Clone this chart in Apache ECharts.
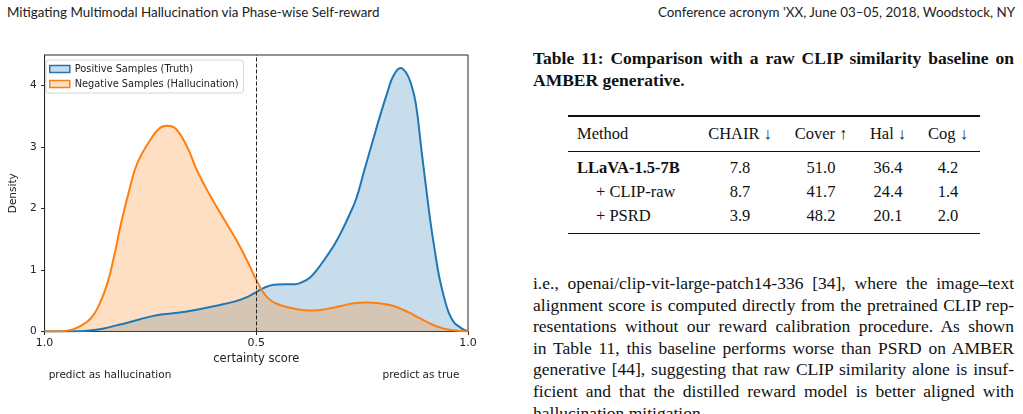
<!DOCTYPE html>
<html>
<head>
<meta charset="utf-8">
<script src="https://cdn.jsdelivr.net/npm/echarts@6/dist/echarts.min.js"></script>
<style>
  html, body {margin: 0; padding: 0; background: #fff;}
  #page {position: relative; width: 1023px; height: 414px; overflow: hidden;}
  #chart {position: absolute; left: 0; top: 0; width: 500px; height: 414px;}
  .hdr {position: absolute; top: 2px; line-height: 20px; font-family: Lato, sans-serif; font-size: 13.4px; color: #222; white-space: nowrap;}
  .cap {position: absolute; left: 533px; width: 481px; line-height: 22px; font-family: 'Liberation Serif', serif; font-weight: bold; font-size: 17px; color: #111; white-space: nowrap;}
  .txt {position: absolute; left: 533px; width: 481px; line-height: 20px; font-family: 'Liberation Serif', serif; font-size: 16px; color: #111; white-space: nowrap; text-align: justify; text-align-last: justify;}
  .cell {position: absolute; line-height: 20px; font-family: 'Liberation Serif', serif; font-size: 16.5px; color: #111; white-space: nowrap;}
  .rule {position: absolute; left: 568px; width: 412px; background: #111;}
  #measure {position: absolute; visibility: hidden; white-space: nowrap; font-family: 'Liberation Serif', serif;}
</style>
</head>
<body>
<div id="page">
  <div class="hdr" style="left:7px">Mitigating Multimodal Hallucination via Phase-wise Self-reward</div>
  <div class="hdr" style="right:8px">Conference acronym 'XX, June 03–05, 2018, Woodstock, NY</div>
  <div id="chart"></div>
  <div id="caption"></div>
  <div id="table"></div>
  <div id="para"></div>
  <span id="measure"></span>
</div>
<script>
// certainty score (0..1) and KDE density
const positiveSamples = [
  [0, 0], [0.08, 0.005], [0.11, 0.02], [0.14, 0.05], [0.17, 0.1], [0.2, 0.15], [0.225, 0.2],
  [0.255, 0.25], [0.28, 0.28], [0.31, 0.3], [0.356, 0.35], [0.403, 0.415], [0.45, 0.49],
  [0.475, 0.55], [0.497, 0.63], [0.518, 0.71], [0.541, 0.76], [0.565, 0.77], [0.59, 0.77],
  [0.61, 0.81], [0.627, 0.88], [0.645, 1.02], [0.666, 1.22], [0.685, 1.42], [0.705, 1.68],
  [0.72, 1.9], [0.736, 2.16], [0.755, 2.62], [0.775, 3.1], [0.794, 3.55], [0.81, 3.9],
  [0.823, 4.15], [0.841, 4.29], [0.855, 4.2], [0.866, 4.02], [0.877, 3.7], [0.89, 2.96],
  [0.9, 2.4], [0.911, 1.8], [0.922, 1.3], [0.932, 0.89], [0.945, 0.52], [0.955, 0.3],
  [0.967, 0.15], [0.979, 0.08], [0.99, 0.03], [1, 0.01]
];
const negativeSamples = [
  [0, 0], [0.04, 0.005], [0.065, 0.03], [0.085, 0.09], [0.11, 0.22], [0.13, 0.45], [0.149, 0.8],
  [0.165, 1.25], [0.18, 1.74], [0.2, 2.3], [0.219, 2.74], [0.248, 3.1], [0.27, 3.3], [0.289, 3.35],
  [0.31, 3.3], [0.337, 3.0], [0.36, 2.62], [0.392, 2.2], [0.415, 1.93], [0.439, 1.65], [0.46, 1.4],
  [0.478, 1.16], [0.5, 0.84], [0.518, 0.62], [0.535, 0.5], [0.557, 0.43], [0.59, 0.37], [0.627, 0.34],
  [0.66, 0.36], [0.697, 0.41], [0.73, 0.46], [0.76, 0.47], [0.79, 0.46], [0.815, 0.43], [0.838, 0.38],
  [0.86, 0.31], [0.885, 0.22], [0.91, 0.13], [0.932, 0.07], [0.955, 0.03], [0.98, 0.01], [1, 0]
];
const seriesNames = ['Positive Samples (Truth)', 'Negative Samples (Hallucination)'];
const xTickValues = [0, 0.5, 1];
const xTickLabels = ['1.0', '0.5', '1.0'];
const yTickValues = [0, 1, 2, 3, 4];
const threshold = 0.5;

// table 11
const captionLines = ['Table 11: Comparison with a raw CLIP similarity baseline on', 'AMBER generative.'];
const tableHead = ['Method', 'CHAIR ↓', 'Cover ↑', 'Hal ↓', 'Cog ↓'];
const tableRows = [
  ['LLaVA-1.5-7B', '7.8', '51.0', '36.4', '4.2'],
  ['+ CLIP-raw', '8.7', '41.7', '24.4', '1.4'],
  ['+ PSRD', '3.9', '48.2', '20.1', '2.0']
];
const paraLines = [
  'i.e., openai/clip-vit-large-patch14-336 [34], where the image–text',
  'alignment score is computed directly from the pretrained CLIP rep-',
  'resentations without our reward calibration procedure. As shown',
  'in Table 11, this baseline performs worse than PSRD on AMBER',
  'generative [44], suggesting that raw CLIP similarity alone is insuf-',
  'ficient and that the distilled reward model is better aligned with',
  'hallucination mitigation.'
];

// fit a font size so the widest justified line just fits the column
const meas = document.getElementById('measure');
const fitSize = (lines, bold, target) => {
  meas.style.fontWeight = bold ? 'bold' : 'normal';
  meas.style.fontSize = '20px';
  let w = 0;
  lines.forEach(t => { meas.textContent = t; w = Math.max(w, meas.getBoundingClientRect().width); });
  return 20 * target / w;
};

const addLine = (parent, cls, t, top, size, justify) => {
  const d = document.createElement('div');
  d.className = cls;
  d.textContent = t;
  d.style.top = top + 'px';
  d.style.fontSize = size + 'px';
  d.style.textAlign = justify ? 'justify' : 'left';
  d.style.textAlignLast = justify ? 'justify' : 'left';
  parent.appendChild(d);
};
const capSize = Math.min(17.5, fitSize([captionLines[0]], true, 474));
addLine(document.getElementById('caption'), 'cap', captionLines[0], 47, capSize, true);
addLine(document.getElementById('caption'), 'cap', captionLines[1], 69, capSize, false);

const paraSize = Math.min(17.5, fitSize(paraLines.slice(0, -1), false, 476));
paraLines.forEach((t, i) => {
  addLine(document.getElementById('para'), 'txt', t, 283 + i * 21.6 - 10, paraSize, i < paraLines.length - 1);
});

// ---- table
const tbl = document.getElementById('table');
const colX = [577, 740, 821, 888, 948];
const rowY = [134, 168, 192, 216];
const addCell = (txt, x, y, center, bold) => {
  const d = document.createElement('div');
  d.className = 'cell';
  d.textContent = txt;
  d.style.top = (y - 10) + 'px';
  d.style.left = x + 'px';
  if (center) d.style.transform = 'translateX(-50%)';
  if (bold) d.style.fontWeight = 'bold';
  tbl.appendChild(d);
};
tableHead.forEach((h, i) => addCell(h, colX[i], rowY[0], i > 0, false));
tableRows.forEach((r, j) => r.forEach((v, i) => {
  const x = i === 0 && j > 0 ? 596 : colX[i];
  addCell(v, x, rowY[j + 1], i > 0, j === 0 && i === 0);
}));
[[116, 1.5], [151.5, 0.8], [233.5, 1.5]].forEach(([y, h]) => {
  const r = document.createElement('div');
  r.className = 'rule';
  r.style.top = (y - h / 2) + 'px';
  r.style.height = h + 'px';
  tbl.appendChild(r);
});

// ---- chart
const blue = '#1f77b4', orange = '#ff7f0e';
const font = 'DejaVu Sans';
const myChart = echarts.init(document.getElementById('chart'));
myChart.setOption({
  animation: false,
  textStyle: {fontFamily: font},
  grid: {left: 41, top: 55, width: 427, height: 276.5, show: true, borderColor: '#262626', borderWidth: 1},
  legend: {
    left: 46, top: 60, orient: 'vertical',
    itemWidth: 20, itemHeight: 7, itemGap: 5,
    padding: [4, 5, 4, 3],
    backgroundColor: 'rgba(255,255,255,0.85)', borderColor: '#d5d5d5', borderWidth: 1, borderRadius: 3,
    textStyle: {fontSize: 9.8, color: '#222', fontFamily: font},
    data: [
      {name: seriesNames[0], icon: 'rect', itemStyle: {color: 'rgba(31,119,180,0.25)', borderColor: blue, borderWidth: 1.5}},
      {name: seriesNames[1], icon: 'rect', itemStyle: {color: 'rgba(255,127,14,0.25)', borderColor: orange, borderWidth: 1.5}}
    ]
  },
  xAxis: {
    type: 'value', min: 0, max: 1,
    name: 'certainty score', nameLocation: 'middle', nameGap: 19,
    nameTextStyle: {fontSize: 11.5, color: '#222', fontFamily: font},
    axisLine: {lineStyle: {color: '#262626'}},
    axisTick: {length: 3.5, customValues: xTickValues, lineStyle: {color: '#262626'}},
    axisLabel: {
      customValues: xTickValues, fontSize: 11, color: '#222', margin: 6,
      formatter: v => xTickLabels[xTickValues.indexOf(v)]
    },
    splitLine: {show: false}
  },
  yAxis: {
    type: 'value', min: 0, max: 4.5,
    name: 'Density', nameLocation: 'middle', nameGap: 22,
    nameTextStyle: {fontSize: 10.5, color: '#222', fontFamily: font},
    axisLine: {show: true, lineStyle: {color: '#262626'}},
    axisTick: {show: true, length: 3.5, customValues: yTickValues, lineStyle: {color: '#262626'}},
    axisLabel: {customValues: yTickValues, fontSize: 10.5, color: '#222', margin: 8},
    splitLine: {show: false}
  },
  graphic: [
    {type: 'text', x: 110, y: 375, style: {text: 'predict as hallucination', font: '10.5px "DejaVu Sans"', fill: '#222', textAlign: 'center', textVerticalAlign: 'middle'}},
    {type: 'text', x: 421, y: 375, style: {text: 'predict as true', font: '10.5px "DejaVu Sans"', fill: '#222', textAlign: 'center', textVerticalAlign: 'middle'}}
  ],
  series: [
    {name: seriesNames[0], data: positiveSamples, color: blue},
    {
      name: seriesNames[1], data: negativeSamples, color: orange,
      markLine: {
        silent: true, symbol: 'none', label: {show: false},
        lineStyle: {color: '#222', type: [4, 2], width: 1},
        data: [{xAxis: threshold}]
      }
    }
  ].map(obj => ({
    ...obj,
    type: 'line',
    smooth: 0.45,
    showSymbol: false,
    lineStyle: {width: 2},
    areaStyle: {opacity: 0.25}
  }))
});
</script>
</body>
</html>
